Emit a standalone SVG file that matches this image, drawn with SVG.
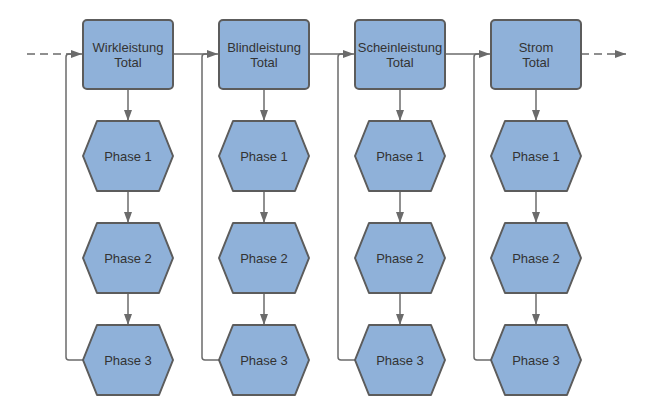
<svg xmlns="http://www.w3.org/2000/svg" width="667" height="417" viewBox="0 0 667 417">
<defs>
<style>
.box{fill:#8fb1d9;stroke:#5c5c5c;stroke-width:2}
.hex{fill:#8fb1d9;stroke:#5c5c5c;stroke-width:2;stroke-linejoin:round}
.t{font-family:"Liberation Sans",Arial,sans-serif;font-size:13px;fill:#333;text-anchor:middle}
.c{fill:none;stroke:#6b6b6b;stroke-width:1.5;stroke-linejoin:round}
.d{stroke-dasharray:8 5}
</style>
<marker id="ah" markerWidth="12" markerHeight="10" refX="11" refY="5" orient="auto" markerUnits="userSpaceOnUse">
<path d="M0,1 L11,5 L0,9 Z" fill="#6b6b6b"/>
</marker>
<polygon id="hx" points="-45,0 -31,-35 31,-35 45,0 31,35 -31,35"/>
</defs>
<g id="connectors">
<path class="c d" d="M27,54 H82" marker-end="url(#ah)"/>
<path class="c" d="M174,54 H218" marker-end="url(#ah)"/>
<path class="c" d="M310,54 H354" marker-end="url(#ah)"/>
<path class="c" d="M446,54 H490" marker-end="url(#ah)"/>
<path class="c d" d="M581,54 H626" marker-end="url(#ah)"/>
<path class="c" d="M83,360 H69 Q66,360 66,357 V57 Q66,54 69,54 H72"/>
<path class="c" d="M219,360 H205 Q202,360 202,357 V57 Q202,54 205,54 H208"/>
<path class="c" d="M355,360 H341 Q338,360 338,357 V57 Q338,54 341,54 H344"/>
<path class="c" d="M491,360 H477 Q474,360 474,357 V57 Q474,54 477,54 H480"/>
<path class="c" d="M128,89 V121" marker-end="url(#ah)"/>
<path class="c" d="M128,191 V223" marker-end="url(#ah)"/>
<path class="c" d="M128,293 V325" marker-end="url(#ah)"/>
<path class="c" d="M264,89 V121" marker-end="url(#ah)"/>
<path class="c" d="M264,191 V223" marker-end="url(#ah)"/>
<path class="c" d="M264,293 V325" marker-end="url(#ah)"/>
<path class="c" d="M400,89 V121" marker-end="url(#ah)"/>
<path class="c" d="M400,191 V223" marker-end="url(#ah)"/>
<path class="c" d="M400,293 V325" marker-end="url(#ah)"/>
<path class="c" d="M536,89 V121" marker-end="url(#ah)"/>
<path class="c" d="M536,191 V223" marker-end="url(#ah)"/>
<path class="c" d="M536,293 V325" marker-end="url(#ah)"/>
</g>
<g id="wirk-total"><rect class="box" x="83" y="20" width="90" height="69" rx="4"/><text class="t" x="128" y="52">Wirkleistung</text><text class="t" x="128" y="66.5">Total</text></g>
<g id="blind-total"><rect class="box" x="219" y="20" width="90" height="69" rx="4"/><text class="t" x="264" y="52">Blindleistung</text><text class="t" x="264" y="66.5">Total</text></g>
<g id="schein-total"><rect class="box" x="355" y="20" width="90" height="69" rx="4"/><text class="t" x="400" y="52">Scheinleistung</text><text class="t" x="400" y="66.5">Total</text></g>
<g id="strom-total"><rect class="box" x="491" y="20" width="90" height="69" rx="4"/><text class="t" x="536" y="52">Strom</text><text class="t" x="536" y="66.5">Total</text></g>
<g id="wirk-p1"><use href="#hx" class="hex" x="128" y="156"/><text class="t" x="128" y="160.5">Phase 1</text></g>
<g id="wirk-p2"><use href="#hx" class="hex" x="128" y="258"/><text class="t" x="128" y="262.5">Phase 2</text></g>
<g id="wirk-p3"><use href="#hx" class="hex" x="128" y="360"/><text class="t" x="128" y="364.5">Phase 3</text></g>
<g id="blind-p1"><use href="#hx" class="hex" x="264" y="156"/><text class="t" x="264" y="160.5">Phase 1</text></g>
<g id="blind-p2"><use href="#hx" class="hex" x="264" y="258"/><text class="t" x="264" y="262.5">Phase 2</text></g>
<g id="blind-p3"><use href="#hx" class="hex" x="264" y="360"/><text class="t" x="264" y="364.5">Phase 3</text></g>
<g id="schein-p1"><use href="#hx" class="hex" x="400" y="156"/><text class="t" x="400" y="160.5">Phase 1</text></g>
<g id="schein-p2"><use href="#hx" class="hex" x="400" y="258"/><text class="t" x="400" y="262.5">Phase 2</text></g>
<g id="schein-p3"><use href="#hx" class="hex" x="400" y="360"/><text class="t" x="400" y="364.5">Phase 3</text></g>
<g id="strom-p1"><use href="#hx" class="hex" x="536" y="156"/><text class="t" x="536" y="160.5">Phase 1</text></g>
<g id="strom-p2"><use href="#hx" class="hex" x="536" y="258"/><text class="t" x="536" y="262.5">Phase 2</text></g>
<g id="strom-p3"><use href="#hx" class="hex" x="536" y="360"/><text class="t" x="536" y="364.5">Phase 3</text></g>
</svg>
